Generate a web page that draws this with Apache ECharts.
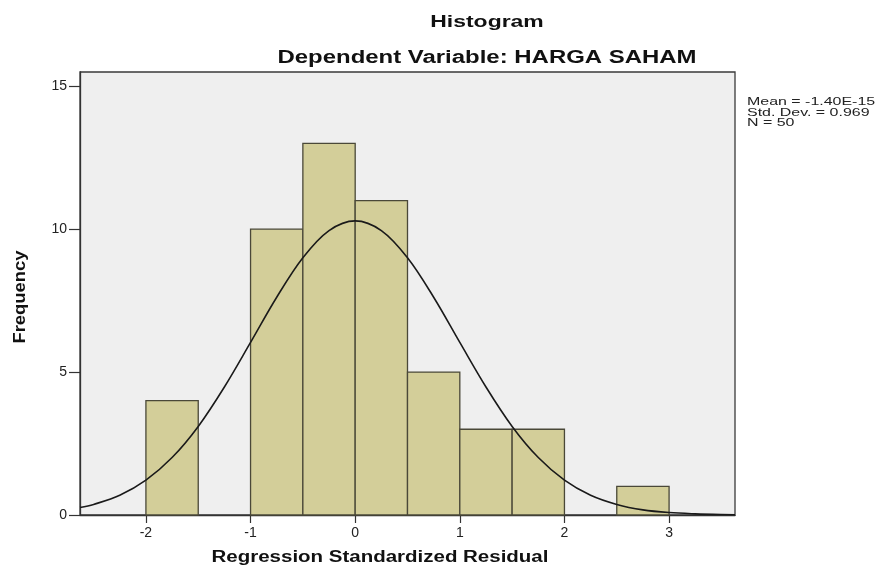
<!DOCTYPE html>
<html>
<head>
<meta charset="utf-8">
<script src="https://cdn.jsdelivr.net/npm/echarts@6/dist/echarts.min.js"></script>
<style>html,body{margin:0;padding:0;background:#fff}#c{width:888px;height:574px}</style>
</head>
<body>
<div id="c"></div>
<script>
// ---- data ----
const binStart = [-2, -1, -0.5, 0, 0.5, 1, 1.5, 2.5];
const binEnd   = [-1.5, -0.5, 0, 0.5, 1, 1.5, 2, 3];
const frequency = [4, 10, 13, 11, 5, 3, 3, 1];

const curveX = [-2.63, -2.5, -2.25, -2, -1.75, -1.5, -1.25, -1, -0.75, -0.5, -0.25, 0, 0.25, 0.5, 0.75, 1, 1.25, 1.5, 1.75, 2, 2.25, 2.5, 2.75, 3, 3.25, 3.5, 3.63];
const curveY = [0.26, 0.37, 0.69, 1.22, 2.01, 3.1, 4.48, 6.04, 7.62, 9.0, 9.95, 10.29, 9.95, 9.0, 7.62, 6.04, 4.48, 3.1, 2.01, 1.22, 0.69, 0.37, 0.18, 0.085, 0.04, 0.015, 0.01];

const xTicks = [-2, -1, 0, 1, 2, 3];
const yTicks = [0, 5, 10, 15];

const titleText = 'Histogram';
const subtitleText = 'Dependent Variable: HARGA SAHAM';
const xName = 'Regression Standardized Residual';
const yName = 'Frequency';
const statsLines = ['Mean = -1.40E-15', 'Std. Dev. = 0.969', 'N = 50'];

// ---- chart ----
const chart = echarts.init(document.getElementById('c'));
const FONT = '"Liberation Sans", Arial, sans-serif';

const barData = binStart.map((s, i) => [s, binEnd[i], frequency[i]]);
const lineData = curveX.map((x, i) => [x, curveY[i]]);

chart.setOption({
  animation: false,
  backgroundColor: '#ffffff',
  grid: {
    left: 80, right: 153, top: 72, bottom: 59,
    show: true, backgroundColor: '#efefef', borderColor: '#3a3a3a', borderWidth: 1.3
  },
  xAxis: {
    type: 'value', min: -2.63, max: 3.63,
    axisLine: { show: true, onZero: false, lineStyle: { color: '#333', width: 1.3 } },
    axisTick: { show: true, inside: false, length: 8, customValues: xTicks, lineStyle: { color: '#333', width: 1.2 } },
    axisLabel: { customValues: xTicks, color: '#222', fontFamily: FONT, fontSize: 14, margin: 11 },
    splitLine: { show: false }
  },
  yAxis: {
    type: 'value', min: 0, max: 15.5,
    axisLine: { show: true, onZero: false, lineStyle: { color: '#333', width: 1.3 } },
    axisTick: { show: true, inside: false, length: 11, customValues: yTicks, lineStyle: { color: '#333', width: 1.2 } },
    axisLabel: { customValues: yTicks, color: '#222', fontFamily: FONT, fontSize: 14, margin: 13 },
    splitLine: { show: false }
  },
  series: [
    {
      type: 'custom',
      data: barData,
      encode: { x: [0, 1], y: 2 },
      renderItem: function (params, api) {
        const p0 = api.coord([api.value(0), api.value(2)]);
        const p1 = api.coord([api.value(1), 0]);
        return {
          type: 'rect',
          shape: { x: p0[0], y: p0[1], width: p1[0] - p0[0], height: p1[1] - p0[1] },
          style: { fill: '#d3ce99', stroke: '#4a4838', lineWidth: 1.3 }
        };
      },
      z: 2
    },
    {
      type: 'line',
      data: lineData,
      smooth: 0.35,
      showSymbol: false,
      lineStyle: { color: '#1a1a1a', width: 1.6 },
      z: 3
    }
  ],
  graphic: [
    { type: 'text', x: 487, y: 22, scaleX: 1.35,
      style: { text: titleText, font: 'bold 17px ' + FONT, fill: '#111', align: 'center', verticalAlign: 'middle' } },
    { type: 'text', x: 487, y: 58, scaleX: 1.33,
      style: { text: subtitleText, font: 'bold 18px ' + FONT, fill: '#111', align: 'center', verticalAlign: 'middle' } },
    { type: 'text', x: 380, y: 558, scaleX: 1.28,
      style: { text: xName, font: 'bold 16px ' + FONT, fill: '#111', align: 'center', verticalAlign: 'middle' } },
    { type: 'text', x: 21, y: 297, rotation: Math.PI / 2, scaleX: 1.15,
      style: { text: yName, font: 'bold 16px ' + FONT, fill: '#111', align: 'center', verticalAlign: 'middle' } },
    { type: 'text', x: 747, y: 102, scaleX: 1.45,
      style: { text: statsLines[0], font: '11px ' + FONT, fill: '#222', align: 'left', verticalAlign: 'middle' } },
    { type: 'text', x: 747, y: 112.5, scaleX: 1.45,
      style: { text: statsLines[1], font: '11px ' + FONT, fill: '#222', align: 'left', verticalAlign: 'middle' } },
    { type: 'text', x: 747, y: 123, scaleX: 1.45,
      style: { text: statsLines[2], font: '11px ' + FONT, fill: '#222', align: 'left', verticalAlign: 'middle' } }
  ]
});
</script>
</body>
</html>
